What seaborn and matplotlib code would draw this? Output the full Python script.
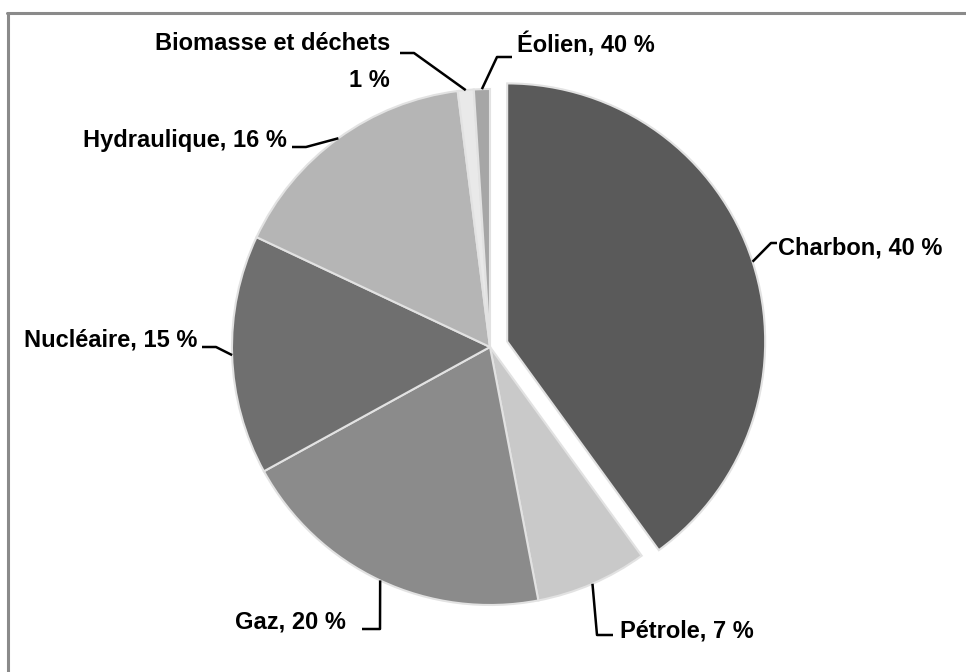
import numpy as np
import matplotlib
matplotlib.use("Agg")
import matplotlib.pyplot as plt
import seaborn as sns
from matplotlib.lines import Line2D

# données (parts de la production d'électricité)
sources = ["Charbon", "Pétrole", "Gaz", "Nucléaire", "Hydraulique",
           "Biomasse et déchets", "Éolien"]
shares = [40, 7, 20, 15, 16, 1, 1]
label_texts = ["Charbon, 40 %", "Pétrole, 7 %", "Gaz, 20 %", "Nucléaire, 15 %",
               "Hydraulique, 16 %", "Biomasse et déchets\n1 %", "Éolien, 40 %"]
greys = ["#5a5a5a", "#c9c9c9", "#8b8b8b", "#6f6f6f", "#b5b5b5", "#e9e9e9", "#a6a6a6"]

# mise en page (pixels de l'image)
CX, CY, R = 490, 347, 258
# (position du texte, alignement, coude, bout de la ligne)
label_layout = [
    ((778, 248), "left", (771, 243), (777, 243)),
    ((620, 631), "left", (597, 635), (613, 635)),
    ((346, 622), "right", (380, 629), (362, 629)),
    ((197, 340), "right", (216, 347), (202, 347)),
    ((287, 140), "right", (306, 147), (292, 147)),
    ((390, 62), "right", (414, 53), (400, 53)),
    ((517, 45), "left", (497, 57), (512, 57)),
]


def px(x, y):
    return (x - CX) / R, (CY - y) / R


sns.set_theme(style="white")
plt.rcParams['font.family'] = ['Liberation Sans', 'DejaVu Sans']

fig = plt.figure(figsize=(9.66, 6.72), dpi=100)
ax = fig.add_axes([0, 0, 1, 1])

palette = sns.color_palette(greys)
explode = [0.07 if s == "Charbon" else 0 for s in sources]
wedges, _ = ax.pie(shares, colors=palette, startangle=90, counterclock=False,
                   explode=explode, radius=1, center=(0, 0),
                   wedgeprops=dict(edgecolor="#e2e2e2", linewidth=1.5))

ax.set_xlim(px(0, 0)[0], px(966, 0)[0])
ax.set_ylim(px(0, 672)[1], px(0, 0)[1])
ax.set_aspect("equal")
ax.axis("off")

for w, txt, (pos, ha, elbow, end) in zip(wedges, label_texts, label_layout):
    mid = np.deg2rad((w.theta1 + w.theta2) / 2)
    ex = w.center[0] + w.r * np.cos(mid)
    ey = w.center[1] + w.r * np.sin(mid)
    e1, e2 = px(*elbow), px(*end)
    ax.plot([ex, e1[0], e2[0]], [ey, e1[1], e2[1]], color="black", lw=1.8,
            solid_capstyle="butt")
    ax.text(*px(*pos), txt, ha=ha, va="center", fontsize=17, fontweight="bold",
            color="black", linespacing=1.75, multialignment="right")

# cadre gris (haut et gauche)
fig.add_artist(Line2D([7 / 966, 1], [1 - 13 / 672, 1 - 13 / 672], color="#8a8a8a",
                      lw=2.2, transform=fig.transFigure))
fig.add_artist(Line2D([8 / 966, 8 / 966], [0, 1 - 13 / 672], color="#8a8a8a",
                      lw=2.2, transform=fig.transFigure))

fig.savefig("out.png", dpi=100)
